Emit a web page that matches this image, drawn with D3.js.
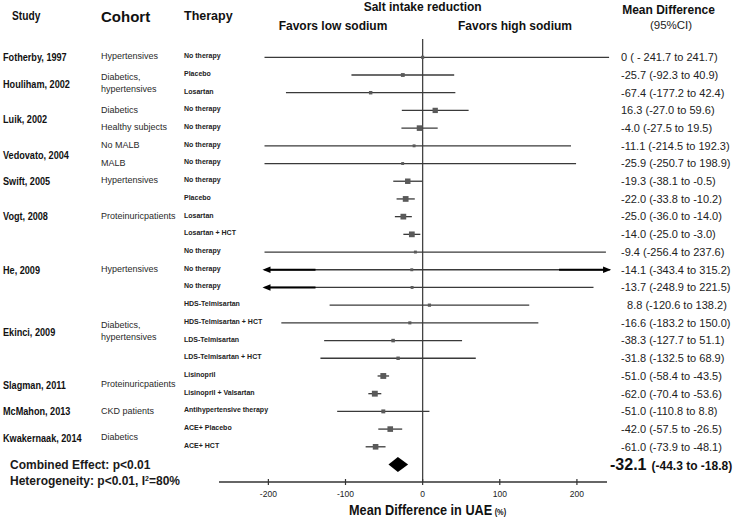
<!DOCTYPE html>
<html><head><meta charset="utf-8">
<script src="https://cdn.jsdelivr.net/npm/d3@7"></script>
<style>
html,body{margin:0;padding:0;background:#fff;}
svg{display:block;font-family:"Liberation Sans",Arial,sans-serif;}
</style></head>
<body><svg id="c" width="735" height="523"></svg>
<script>
// ---- data ----
const therapies = ["No therapy","Placebo","Losartan","No therapy","No therapy","No therapy","No therapy",
  "No therapy","Placebo","Losartan","Losartan + HCT","No therapy","No therapy","No therapy",
  "HDS-Telmisartan","HDS-Telmisartan + HCT","LDS-Telmisartan","LDS-Telmisartan + HCT",
  "Lisinopril","Lisinopril + Valsartan","Antihypertensive therapy","ACE+ Placebo","ACE+ HCT"];
const means = [0,-25.7,-67.4,16.3,-4.0,-11.1,-25.9,-19.3,-22.0,-25.0,-14.0,-9.4,-14.1,-13.7,8.8,-16.6,-38.3,-31.8,-51.0,-62.0,-51.0,-42.0,-61.0];
const lower = [-241.7,-92.3,-177.2,-27.0,-27.5,-214.5,-250.7,-38.1,-33.8,-36.0,-25.0,-256.4,-343.4,-248.9,-120.6,-183.2,-127.7,-132.5,-58.4,-70.4,-110.8,-57.5,-73.9];
const upper = [241.7,40.9,42.4,59.6,19.5,192.3,198.9,-0.5,-10.2,-14.0,-3.0,237.6,315.2,221.5,138.2,150.0,51.1,68.9,-43.5,-53.6,8.8,-26.5,-48.1];
const weights = [0.2,1.0,0.5,4.5,5.5,0.1,0.1,5.0,6.0,6.0,6.0,0.1,0.1,0.1,0.3,0.2,0.6,0.5,6.5,6.5,1.2,5.5,5.5];
const ciLabels = ["0 ( - 241.7 to 241.7)","-25.7 (-92.3 to 40.9)","-67.4 (-177.2 to 42.4)","16.3 (-27.0 to 59.6)",
  "-4.0 (-27.5 to 19.5)","-11.1 (-214.5 to 192.3)","-25.9 (-250.7 to 198.9)","-19.3 (-38.1 to -0.5)",
  "-22.0 (-33.8 to -10.2)","-25.0 (-36.0 to -14.0)","-14.0 (-25.0 to -3.0)","-9.4 (-256.4 to 237.6)",
  "-14.1 (-343.4 to 315.2)","-13.7 (-248.9 to 221.5)","\u00a0\u00a08.8 (-120.6 to 138.2)","-16.6 (-183.2 to 150.0)",
  "-38.3 (-127.7 to 51.1)","-31.8 (-132.5 to 68.9)","-51.0 (-58.4 to -43.5)","-62.0 (-70.4 to -53.6)",
  "-51.0 (-110.8 to 8.8)","-42.0 (-57.5 to -26.5)","-61.0 (-73.9 to -48.1)"];
const arrowLeftRows = [12,13];
const arrowRightRows = [12];
const studies = [["Fotherby, 1997",0,0],["Houliham, 2002",1,2],["Luik, 2002",3,4],["Vedovato, 2004",5,6],
  ["Swift, 2005",7,7],["Vogt, 2008",8,10],["He, 2009",11,13],["Ekinci, 2009",14,17],
  ["Slagman, 2011",18,19],["McMahon, 2013",20,20],["Kwakernaak, 2014",21,22]];
const cohorts = [["Hypertensives",0,0],["Diabetics,|hypertensives",1,2],["Diabetics",3,3],["Healthy subjects",4,4],
  ["No MALB",5,5],["MALB",6,6],["Hypertensives",7,7],["Proteinuricpatients",8,10],["Hypertensives",11,13],
  ["Diabetics,|hypertensives",14,17],["Proteinuricpatients",18,19],["CKD patients",20,20],["Diabetics",21,22]];
const combined = {mean:-32.1, lo:-44.3, hi:-18.8};
const xTicks = [-200,-100,0,100,200];
const xDomain = [-264, 239];
const clipRange = [-205, 243];

// ---- drawing ----
const svg = d3.select("#c");
const x = d3.scaleLinear().domain(xDomain).range([219, 607]);
const y = d3.scalePoint().domain(d3.range(therapies.length + 1)).range([57.3, 464.5]);
const size = d3.scaleSqrt().domain([0, 7]).range([2.5, 6]);
const clampX = v => x(Math.max(clipRange[0], Math.min(clipRange[1], v)));
const mid = (a,b) => (y(a)+y(b))/2;

// headers
svg.append("text").attr("transform","translate(12,16) scale(0.85,1)").attr("dy","0.35em")
  .attr("font-size",12).attr("font-weight","bold").attr("fill","#111").text("Study");
svg.append("text").attr("x",101).attr("y",16.5).attr("dy","0.35em")
  .attr("font-size",15).attr("font-weight","bold").attr("fill","#111").text("Cohort");
svg.append("text").attr("x",184).attr("y",16).attr("dy","0.35em")
  .attr("font-size",12.5).attr("font-weight","bold").attr("fill","#111").text("Therapy");
svg.append("text").attr("x",x(0)).attr("y",7).attr("dy","0.35em").attr("text-anchor","middle")
  .attr("font-size",12).attr("font-weight","bold").attr("fill","#111").text("Salt intake reduction");
svg.append("text").attr("x",333).attr("y",25.5).attr("dy","0.35em").attr("text-anchor","middle")
  .attr("font-size",12).attr("font-weight","bold").attr("fill","#111").text("Favors low sodium");
svg.append("text").attr("x",515).attr("y",25.5).attr("dy","0.35em").attr("text-anchor","middle")
  .attr("font-size",12).attr("font-weight","bold").attr("fill","#111").text("Favors high sodium");
svg.append("text").attr("x",668.5).attr("y",10).attr("dy","0.35em").attr("text-anchor","middle")
  .attr("font-size",12).attr("font-weight","bold").attr("fill","#111").text("Mean Difference");
svg.append("text").attr("x",671).attr("y",24.5).attr("dy","0.35em").attr("text-anchor","middle")
  .attr("font-size",11.5).attr("fill","#222").text("(95%CI)");

// study names
svg.selectAll("text.study").data(studies).join("text").attr("class","study")
  .attr("transform", d => `translate(3,${mid(d[1],d[2])}) scale(0.83,1)`).attr("dy","0.35em")
  .attr("font-size",11).attr("font-weight","bold").attr("fill","#111").text(d => d[0]);

// cohorts
const coh = svg.selectAll("text.cohort").data(cohorts).join("text").attr("class","cohort")
  .attr("font-size",9).attr("fill","#2a2a2a");
coh.each(function(d){
  const lines = d[0].split("|");
  const cy = mid(d[1],d[2]) - 1;
  const t = d3.select(this);
  lines.forEach((ln,i) => {
    t.append("tspan").attr("x",101).attr("y", cy + (i - (lines.length-1)/2)*12.7).attr("dy","0.35em").text(ln);
  });
});

// therapies
svg.selectAll("text.ther").data(therapies).join("text").attr("class","ther")
  .attr("x",184).attr("y",(d,i)=>y(i)-1.5).attr("dy","0.35em")
  .attr("font-size",7).attr("font-weight","bold").attr("fill","#222").text(d=>d);

// zero line
svg.append("line").attr("x1",x(0)).attr("x2",x(0)).attr("y1",39).attr("y2",482)
  .attr("stroke","#444").attr("stroke-width",1.3);

// whiskers
svg.selectAll("line.ci").data(means).join("line").attr("class","ci")
  .attr("x1",(d,i)=>clampX(lower[i])).attr("x2",(d,i)=>clampX(upper[i]))
  .attr("y1",(d,i)=>y(i)).attr("y2",(d,i)=>y(i))
  .attr("stroke","#3a3a3a").attr("stroke-width",1.3);

// arrows
arrowLeftRows.forEach(i => {
  const tip = clampX(lower[i]) - 2, yy = y(i);
  svg.append("line").attr("x1",tip+4).attr("x2",tip+53).attr("y1",yy).attr("y2",yy)
    .attr("stroke","#000").attr("stroke-width",2);
  svg.append("path").attr("d",`M${tip},${yy}L${tip+8},${yy-3.3}L${tip+8},${yy+3.3}Z`).attr("fill","#000");
});
arrowRightRows.forEach(i => {
  const tip = clampX(upper[i]) + 1, yy = y(i);
  svg.append("line").attr("x1",tip-52).attr("x2",tip-4).attr("y1",yy).attr("y2",yy)
    .attr("stroke","#000").attr("stroke-width",2);
  svg.append("path").attr("d",`M${tip},${yy}L${tip-8},${yy-3.3}L${tip-8},${yy+3.3}Z`).attr("fill","#000");
});

// squares
svg.selectAll("rect.pt").data(means).join("rect").attr("class","pt")
  .attr("x",(d,i)=>x(d)-size(weights[i])/2).attr("y",(d,i)=>y(i)-size(weights[i])/2)
  .attr("width",(d,i)=>size(weights[i])).attr("height",(d,i)=>size(weights[i]))
  .attr("fill","#5a5a5a");

// combined diamond
const dy0 = y(therapies.length);
svg.append("path").attr("d",`M${x(combined.lo)},${dy0}L${x(combined.mean)},${dy0-7.5}L${x(combined.hi)},${dy0}L${x(combined.mean)},${dy0+7.5}Z`)
  .attr("fill","#000");

// right labels
svg.selectAll("text.ci").data(ciLabels).join("text").attr("class","ci")
  .attr("x",621).attr("y",(d,i)=>y(i)).attr("dy","0.35em")
  .attr("font-size",11).attr("fill","#222").style("white-space","pre").text(d=>d);
const ct = svg.append("text").attr("x",610).attr("y",dy0).attr("dy","0.35em").attr("fill","#111").attr("font-weight","bold");
ct.append("tspan").attr("font-size",16).text(combined.mean.toFixed(1));
ct.append("tspan").attr("font-size",12).attr("dx",5).text(`(${combined.lo.toFixed(1)} to ${combined.hi.toFixed(1)})`);

// combined effect text
svg.append("text").attr("x",10).attr("y",dy0).attr("dy","0.35em").attr("font-size",12).attr("font-weight","bold")
  .attr("fill","#1a1a1a").text("Combined Effect: p<0.01");
const het = svg.append("text").attr("x",10).attr("y",480.5).attr("dy","0.35em").attr("font-size",12).attr("font-weight","bold").attr("fill","#1a1a1a");
het.append("tspan").text("Heterogeneity: p<0.01, I");
het.append("tspan").attr("font-size",7).attr("dy",-4).text("2");
het.append("tspan").attr("dy",4).text("=80%");

// x axis
const axisY = 482;
const ax = svg.append("g").attr("transform",`translate(0,${axisY})`);
ax.append("line").attr("x1",x.range()[0]).attr("x2",x.range()[1]).attr("stroke","#333").attr("stroke-width",1.4);
ax.selectAll("line.tk").data(xTicks).join("line").attr("class","tk")
  .attr("x1",d=>x(d)).attr("x2",d=>x(d)).attr("y1",-3).attr("y2",3).attr("stroke","#333").attr("stroke-width",1.2);
ax.selectAll("text").data(xTicks).join("text").attr("x",d=>x(d)).attr("y",12).attr("dy","0.35em")
  .attr("text-anchor","middle").attr("font-size",8.5).attr("fill","#222").text(d=>d);

const at = svg.append("text").attr("transform","translate(349,509) scale(0.82,1)").attr("dy","0.35em")
  .attr("font-weight","bold").attr("fill","#111");
at.append("tspan").attr("font-size",15.5).text("Mean Difference in UAE");
at.append("tspan").attr("font-size",9).attr("dx",3).text("(%)");
</script></body></html>
